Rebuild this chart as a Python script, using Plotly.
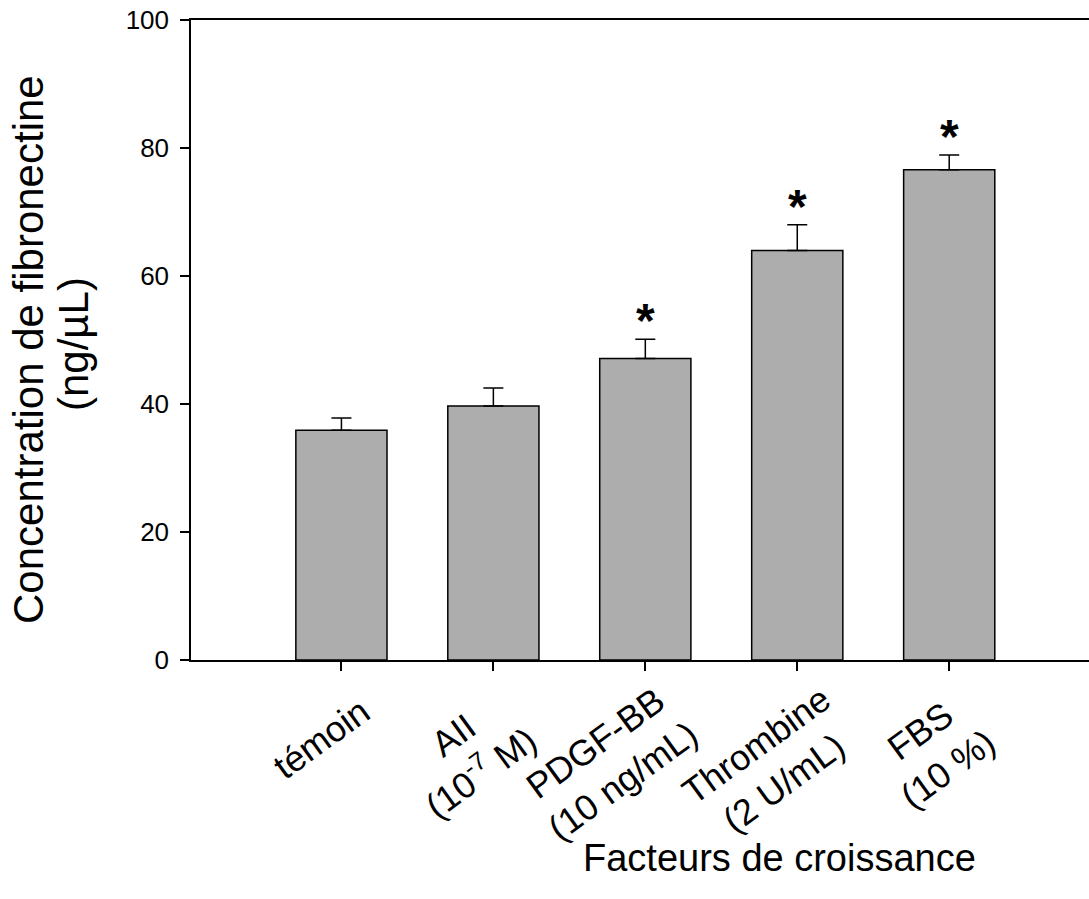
import plotly.graph_objects as go

# ---- data ----
categories = ["témoin", "AII (10-7 M)", "PDGF-BB (10 ng/mL)", "Thrombine (2 U/mL)", "FBS (10 %)"]
label_texts = ["témoin", "AII<br>(10<sup>-7</sup> M)", "PDGF-BB<br>(10 ng/mL)", "Thrombine<br>(2 U/mL)", "FBS<br>(10 %)"]
means = [35.9, 39.7, 47.1, 64.0, 76.6]
errors = [1.9, 2.8, 3.0, 4.0, 2.3]
significant = [False, False, True, True, True]
y_ticks = [0, 20, 40, 60, 80, 100]

# ---- layout helpers (pixel offsets of the rotated category labels) ----
label_dx = [-20, -26, -36, -27, -15]
label_dy = [78, 94, 102, 104, 90]

FONT = "Liberation Sans, Arial, Helvetica, sans-serif"

fig = go.Figure()
fig.add_trace(go.Bar(
    x=categories, y=means, width=0.6,
    marker=dict(color="#adadad", line=dict(color="black", width=1.5)),
    error_y=dict(type="data", array=errors, arrayminus=[0] * len(errors), symmetric=False,
                 color="black", thickness=1.5, width=10),
    showlegend=False,
))

annotations = []
for i, c in enumerate(categories):
    annotations.append(dict(
        x=c, xref="x", y=0, yref="paper", text=label_texts[i], showarrow=False,
        textangle=-36, align="center", xanchor="center", yanchor="middle",
        xshift=label_dx[i], yshift=-label_dy[i],
        font=dict(family=FONT, size=36, color="black"),
    ))
    if significant[i]:
        annotations.append(dict(
            x=c, xref="x", y=means[i] + errors[i], yref="y", text="<b>*</b>", showarrow=False,
            xanchor="center", yanchor="bottom", yshift=-10,
            font=dict(family=FONT, size=48, color="black"),
        ))

# y-axis title (two centred lines)
annotations.append(dict(x=0, xref="paper", y=0.5, yref="paper", xshift=-163, yshift=-10,
                        text="Concentration de fibronectine",
                        showarrow=False, textangle=-90, xanchor="center", yanchor="middle",
                        font=dict(family=FONT, size=42, color="black")))
annotations.append(dict(x=0, xref="paper", y=0.5, yref="paper", xshift=-118, yshift=-4, text="(ng/µL)",
                        showarrow=False, textangle=-90, xanchor="center", yanchor="middle",
                        font=dict(family=FONT, size=42, color="black")))
# x-axis title
annotations.append(dict(x=0.655, xref="paper", y=0, yref="paper", yshift=-198, text="Facteurs de croissance",
                        showarrow=False, xanchor="center", yanchor="middle",
                        font=dict(family=FONT, size=38, color="black")))

fig.update_layout(
    width=1089, height=899,
    margin=dict(l=191, r=0, t=20, b=239),
    plot_bgcolor="white", paper_bgcolor="white",
    font=dict(family=FONT, color="black"),
    annotations=annotations,
    xaxis=dict(
        type="category", range=[-0.99, 4.92],
        showline=True, linecolor="black", linewidth=1.5, mirror=True,
        ticks="outside", ticklen=9, tickwidth=1.5, tickcolor="black",
        showticklabels=False, showgrid=False, zeroline=False,
    ),
    yaxis=dict(
        range=[0, 100], tickvals=y_ticks,
        showline=True, linecolor="black", linewidth=1.5,
        ticks="outside", ticklen=9, tickwidth=1.5, tickcolor="black",
        tickfont=dict(family=FONT, size=26, color="black"),
        ticklabelstandoff=6,
        showgrid=False, zeroline=False,
    ),
)

# remove the page's default body margin so the figure sits at the top-left corner
fig.write_html("out.html", config={"displayModeBar": False},
               post_script="document.body.style.margin='0px';document.body.style.overflow='hidden';")
